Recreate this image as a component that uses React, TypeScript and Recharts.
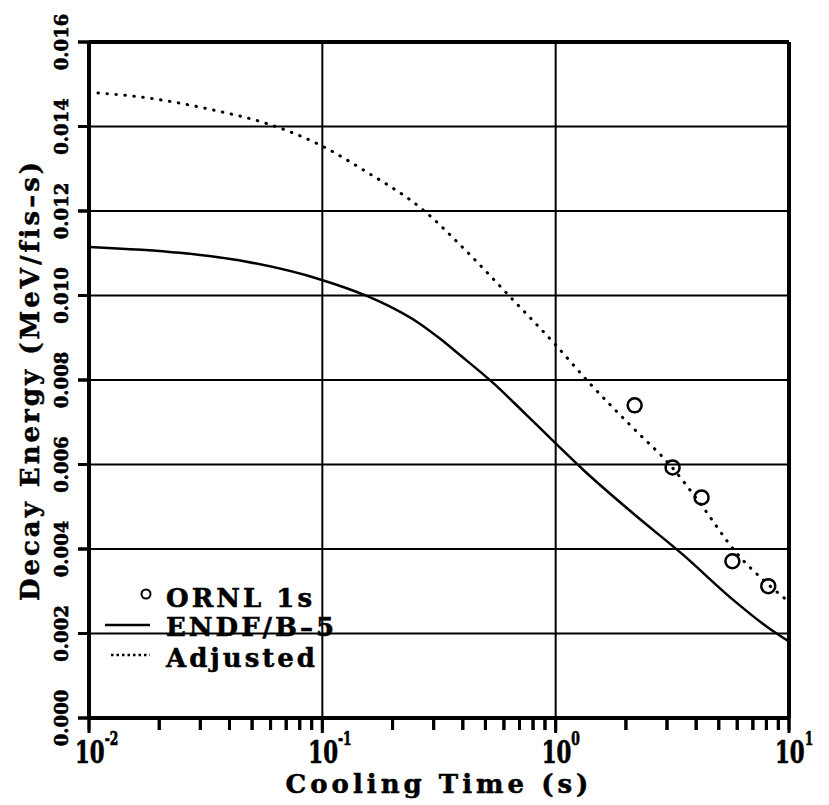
import React from 'react';
import {
  ComposedChart,
  Line,
  Scatter,
  XAxis,
  YAxis,
  CartesianGrid,
  ReferenceLine,
  Legend,
} from 'recharts';

// ENDF/B-5 curve (solid)
const endfTime = [0.01, 0.0245, 0.0474, 0.098, 0.155, 0.201, 0.254, 0.319, 0.389, 0.532, 0.751, 1.0, 1.315, 2.15, 3.52, 5.78, 8.04, 10];
const endfValue = [0.01115, 0.01101, 0.0108, 0.01038, 0.00999, 0.0097, 0.00938, 0.00898, 0.00859, 0.00796, 0.00717, 0.0065, 0.00587, 0.00484, 0.00386, 0.00279, 0.00216, 0.00181];

// Adjusted curve (dotted)
const adjTime = [0.01, 0.01767, 0.0341, 0.0578, 0.098, 0.15, 0.271, 0.416, 0.638, 1.0, 1.4, 2.15, 3.09, 4.16, 5.97, 8.04, 10];
const adjValue = [0.01481, 0.01468, 0.01439, 0.01407, 0.01356, 0.01297, 0.01202, 0.01104, 0.00997, 0.00883, 0.00792, 0.00686, 0.00599, 0.00508, 0.0039, 0.00319, 0.00275];

// ORNL 1s measurements (open circles)
const ornlTime = [2.18, 3.17, 4.22, 5.72, 8.15];
const ornlValue = [0.0074, 0.00593, 0.00522, 0.00371, 0.00312];

// Axis ticks
const xDecades = [0.01, 0.1, 1, 10];
const xExponents = ['-2', '-1', '0', '1'];
const xMinor = [
  0.02, 0.03, 0.04, 0.05, 0.06, 0.07, 0.08, 0.09,
  0.2, 0.3, 0.4, 0.5, 0.6, 0.7, 0.8, 0.9,
  2, 3, 4, 5, 6, 7, 8, 9,
];
const yTicks = [0, 0.002, 0.004, 0.006, 0.008, 0.01, 0.012, 0.014, 0.016];
const seriesNames = ['ORNL 1s', 'ENDF/B\u20135', 'Adjusted'];
const xTitle = 'Cooling Time (s)';
const yTitle = 'Decay Energy (MeV/fis\u2013s)';

const endfData = endfTime.map((t, i) => ({ t, v: endfValue[i] }));
const adjData = adjTime.map((t, i) => ({ t, v: adjValue[i] }));
const ornlData = ornlTime.map((t, i) => ({ t, v: ornlValue[i] }));
const allXTicks = [...xDecades, ...xMinor].sort((a, b) => a - b);

const FONT = '"DejaVu Serif", "Liberation Serif", serif';
const X_TICK = 12;
const Y_TICK = 11;

const XTick = (props: any) => {
  const { x, y, payload } = props;
  const idx = xDecades.indexOf(payload.value);
  if (idx < 0) {
    return <rect x={x - 1.5} y={y - X_TICK} width={3} height={X_TICK} fill="#000" />;
  }
  return (
    <g>
      <rect x={x - 1.5} y={y - X_TICK} width={3} height={X_TICK + 3} fill="#000" />
      <g transform={`translate(${x - 14},${y + 33}) scale(0.82,1.2)`}>
        <text x={0} y={0} fontFamily={FONT} fontWeight="bold" fontSize={26} fill="#000" stroke="#000" strokeWidth={0.6}>
          10
          <tspan dy={-15} fontSize={15}>{xExponents[idx]}</tspan>
        </text>
      </g>
    </g>
  );
};

const YTick = (props: any) => {
  const { x, y, payload } = props;
  return (
    <g>
      <rect x={x} y={y - 1.5} width={Y_TICK} height={3} fill="#000" />
      <text
        transform={`translate(${x - 10},${y}) rotate(-90)`}
        textAnchor="middle"
        fontFamily={FONT}
        fontWeight="bold"
        fontSize={18}
        fill="#000"
        stroke="#000"
        strokeWidth={0.6}
      >
        {payload.value.toFixed(3)}
      </text>
    </g>
  );
};

const XTitle = (props: any) => {
  const vb = props.viewBox || {};
  const cx = vb.x + vb.width / 2;
  return (
    <text x={cx} y={793} textAnchor="middle" fontFamily={FONT} fontWeight="bold" fontSize={26} letterSpacing={4} fill="#000" stroke="#000" strokeWidth={0.5}>
      {xTitle}
    </text>
  );
};

const YTitle = (props: any) => {
  const vb = props.viewBox || {};
  const cy = vb.y + vb.height / 2;
  return (
    <text
      transform={`translate(39,${cy}) rotate(-90)`}
      textAnchor="middle"
      fontFamily={FONT}
      fontWeight="bold"
      fontSize={26}
      letterSpacing={3}
      fill="#000"
      stroke="#000"
      strokeWidth={0.5}
    >
      {yTitle}
    </text>
  );
};

const LegendBox = () => {
  const ts = { fontFamily: FONT, fontWeight: 'bold' as const, fontSize: 26, letterSpacing: 3, fill: '#000', stroke: '#000', strokeWidth: 0.5 };
  return (
    <svg width={280} height={100} style={{ display: 'block', overflow: 'visible' }}>
      <circle cx={51} cy={19} r={4.5} fill="none" stroke="#000" strokeWidth={2} />
      <text x={71} y={32} {...ts}>{seriesNames[0]}</text>
      <line x1={10} x2={55} y1={50} y2={50} stroke="#000" strokeWidth={2.5} />
      <text x={71} y={61} {...ts}>{seriesNames[1]}</text>
      <line x1={16} x2={55} y1={80} y2={80} stroke="#000" strokeWidth={2.5} strokeDasharray="2.5 3" />
      <text x={71} y={92} {...ts}>{seriesNames[2]}</text>
    </svg>
  );
};

const OpenCircle = (props: any) => {
  const { cx, cy } = props;
  return <circle cx={cx} cy={cy} r={7} fill="none" stroke="#000" strokeWidth={2.5} />;
};

export default function App() {
  return (
    <div style={{ position: 'absolute', left: 0, top: 0, background: '#fff' }}>
      <ComposedChart width={829} height={805} margin={{ top: 42, right: 40, bottom: 0, left: 0 }}>
        <CartesianGrid vertical={false} stroke="#000" strokeWidth={2} strokeOpacity={1} />
        <XAxis
          dataKey="t"
          type="number"
          scale="log"
          domain={[0.01, 10]}
          allowDataOverflow
          ticks={allXTicks}
          interval={0}
          tick={<XTick />}
          tickLine={{ stroke: '#000', strokeWidth: 3 }}
          tickSize={X_TICK}
          tickMargin={0}
          height={87}
          axisLine={{ stroke: '#000', strokeWidth: 4 }}
          label={{ content: <XTitle /> } as any}
        />
        <YAxis
          dataKey="v"
          type="number"
          domain={[0, 0.016]}
          ticks={yTicks}
          interval={0}
          tick={<YTick />}
          tickLine={{ stroke: '#000', strokeWidth: 3 }}
          tickSize={Y_TICK}
          tickMargin={0}
          width={89}
          axisLine={{ stroke: '#000', strokeWidth: 4 }}
          label={{ content: <YTitle /> } as any}
        />
        {xDecades.slice(1, 3).map((d) => (
          <ReferenceLine key={d} x={d} stroke="#000" strokeWidth={2} />
        ))}
        <ReferenceLine x={xDecades[3]} stroke="#000" strokeWidth={4} />
        <ReferenceLine y={yTicks[yTicks.length - 1]} stroke="#000" strokeWidth={4} />
        <Line
          data={endfData}
          dataKey="v"
          type="monotone"
          stroke="#000"
          strokeWidth={2.5}
          dot={false}
          activeDot={false}
          isAnimationActive={false}
          name={seriesNames[1]}
        />
        <Line
          data={adjData}
          dataKey="v"
          type="monotone"
          stroke="#000"
          strokeWidth={3}
          strokeDasharray="0.5 8.5"
          strokeLinecap="round"
          dot={false}
          activeDot={false}
          isAnimationActive={false}
          name={seriesNames[2]}
        />
        <Scatter
          data={ornlData}
          dataKey="v"
          shape={<OpenCircle />}
          isAnimationActive={false}
          name={seriesNames[0]}
        />
        <Legend
          layout="horizontal"
          verticalAlign="middle"
          align="center"
          content={<LegendBox />}
          wrapperStyle={{ left: 95, top: 575, width: 280, height: 100 }}
        />
      </ComposedChart>
    </div>
  );
}
